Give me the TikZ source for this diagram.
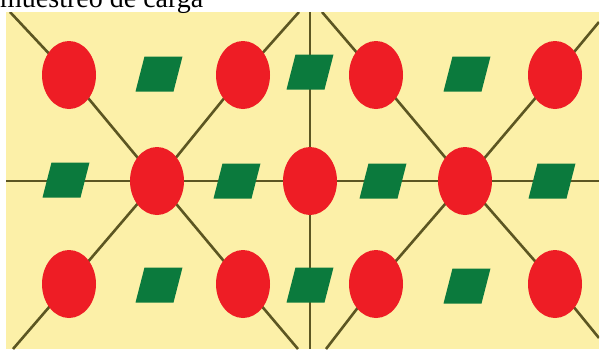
\documentclass[tikz,border=0pt]{standalone}
\usepackage{fontspec}
\setmainfont{Liberation Serif}
\usetikzlibrary{backgrounds,shapes.geometric}
\definecolor{bgyellow}{HTML}{FCF0A8}
\definecolor{ionred}{HTML}{EE1D25}
\definecolor{siteg}{HTML}{0B7A3D}
\definecolor{linec}{HTML}{5C5622}
\tikzset{
  ion/.style={ellipse, fill=ionred, minimum width=54pt, minimum height=68pt, inner sep=0pt},
  site/.style={fill=siteg, draw=none},
  bond/.style={draw=linec, line width=2.6pt},
}
\begin{document}
\begin{tikzpicture}[x=1pt,y=-1pt]
\useasboundingbox (0,0) rectangle (603,349);
% title (cut by the page edge)
\node[anchor=base west, inner sep=0pt, font=\fontsize{28}{30}\selectfont] (title) at (0,7) {muestreo de carga};
% ions
\node[ion] (a1) at (69,75) {};
\node[ion] (a2) at (243,75) {};
\node[ion] (a3) at (376,75) {};
\node[ion] (a4) at (555,75) {};
\node[ion] (b1) at (157,181) {};
\node[ion] (b2) at (310,181) {};
\node[ion] (b3) at (465,181) {};
\node[ion] (c1) at (69,284) {};
\node[ion] (c2) at (243,284) {};
\node[ion] (c3) at (376,284) {};
\node[ion] (c4) at (555,284) {};
% parallelogram sites
\foreach \n/\x/\y in {p1/159/74, p2/310/72, p3/467/74,
                       q1/66/180, q2/237/181, q3/383/181, q4/552/181,
                       r1/159/285, r2/310/285, r3/467/286} {
  \coordinate (\n) at (\x,\y);
  \fill[site] ([shift={(-14.5,-17.5)}]\n) -- ([shift={(23.5,-17.5)}]\n)
      -- ([shift={(14.5,17.5)}]\n) -- ([shift={(-23.5,17.5)}]\n) -- cycle;
}
% free ends of the lines
\coordinate (e1) at (10,12);
\coordinate (e2) at (298,349);
\coordinate (e3) at (13,349);
\coordinate (e4) at (299,12);
\coordinate (e5) at (322,12);
\coordinate (e6) at (599,338);
\coordinate (e7) at (326,349);
\coordinate (e8) at (599,22);
\coordinate (h1) at (6,181);
\coordinate (h2) at (599,181);
\coordinate (v1) at (310,12);
\coordinate (v2) at (310,349);
\begin{scope}[on background layer]
  \fill[bgyellow] (6,12) rectangle (599,349);
  \begin{scope}
    \clip (6,12) rectangle (599,349);
    \draw[bond] (e1) -- (a1.center) -- (b1.center) -- (c2.center) -- (e2);
    \draw[bond] (e3) -- (c1.center) -- (b1.center) -- (a2.center) -- (e4);
    \draw[bond] (e5) -- (a3.center) -- (b3.center) -- (c4.center) -- (e6);
    \draw[bond] (e7) -- (c3.center) -- (b3.center) -- (a4.center) -- (e8);
    \draw[bond] (h1) -- (b1.center) -- (b2.center) -- (b3.center) -- (h2);
    \draw[bond] (v1) -- (b2.center) -- (v2);
  \end{scope}
\end{scope}
\end{tikzpicture}
\end{document}
